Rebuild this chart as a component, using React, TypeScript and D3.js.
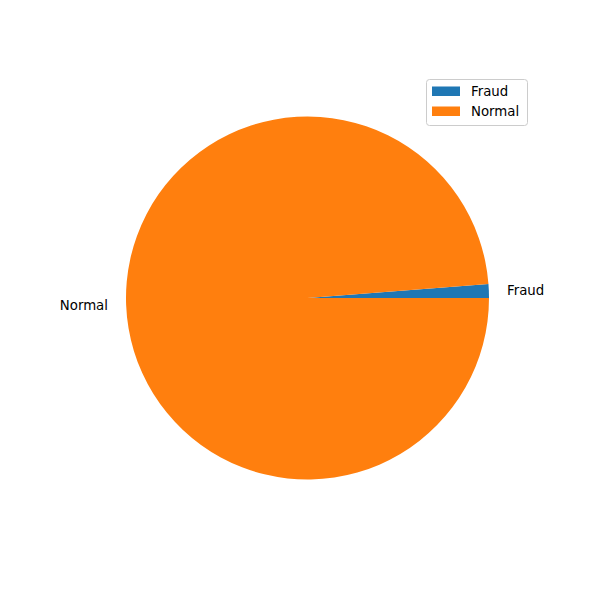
import React, { useEffect, useRef } from 'react';
import * as d3 from 'd3';

const labels = ['Fraud', 'Normal'];
const values = [1.23, 98.77];
const colors = ['#1f77b4', '#ff7f0e'];

const App: React.FC = () => {
  const svgRef = useRef<SVGSVGElement>(null);

  useEffect(() => {
    if (!svgRef.current) return;
    const svg = d3.select(svgRef.current);
    svg.selectAll('*').remove();

    const cx = 307.5;
    const cy = 298;
    const r = 181.5;
    const font = 'DejaVu Sans, sans-serif';

    // matplotlib style: start at 3 o'clock, counterclockwise
    const pie = d3
      .pie<number>()
      .sort(null)
      .startAngle(Math.PI / 2)
      .endAngle(Math.PI / 2 - 2 * Math.PI);
    const arcs = pie(values);

    const arc = d3.arc<d3.PieArcDatum<number>>().innerRadius(0).outerRadius(r);

    const g = svg.append('g').attr('transform', `translate(${cx},${cy})`);

    g.selectAll('path')
      .data(arcs)
      .enter()
      .append('path')
      .attr('d', arc)
      .attr('fill', (d, i) => colors[i]);

    // labels at 1.1 * radius
    g.selectAll('text.lbl')
      .data(arcs)
      .enter()
      .append('text')
      .attr('class', 'lbl')
      .each(function (d, i) {
        const a = (d.startAngle + d.endAngle) / 2;
        const x = Math.sin(a) * r * 1.1;
        const y = -Math.cos(a) * r * 1.1;
        d3.select(this)
          .attr('x', x)
          .attr('y', y)
          .attr('dy', '0.35em')
          .attr('text-anchor', x > 0 ? 'start' : 'end')
          .attr('font-family', font)
          .attr('font-size', 13.33)
          .attr('fill', '#000')
          .text(labels[i]);
      });

    // legend
    const legend = svg.append('g').attr('transform', 'translate(426,79)');
    legend
      .append('rect')
      .attr('x', 0.5)
      .attr('y', 0.5)
      .attr('width', 101)
      .attr('height', 46)
      .attr('rx', 3)
      .attr('fill', '#fff')
      .attr('fill-opacity', 0.8)
      .attr('stroke', '#cccccc')
      .attr('stroke-width', 1);

    labels.forEach((label, i) => {
      const y = 12 + i * 20;
      legend
        .append('rect')
        .attr('x', 6)
        .attr('y', y - 4.5)
        .attr('width', 28)
        .attr('height', 9.5)
        .attr('fill', colors[i]);
      legend
        .append('text')
        .attr('x', 45)
        .attr('y', y)
        .attr('dy', '0.35em')
        .attr('font-family', font)
        .attr('font-size', 13.33)
        .attr('fill', '#000')
        .text(label);
    });
  }, []);

  return (
    <div style={{ position: 'absolute', left: 0, top: 0, width: 600, height: 600, background: '#fff' }}>
      <svg ref={svgRef} width={600} height={600} style={{ display: 'block' }}></svg>
    </div>
  );
};

export default App;
